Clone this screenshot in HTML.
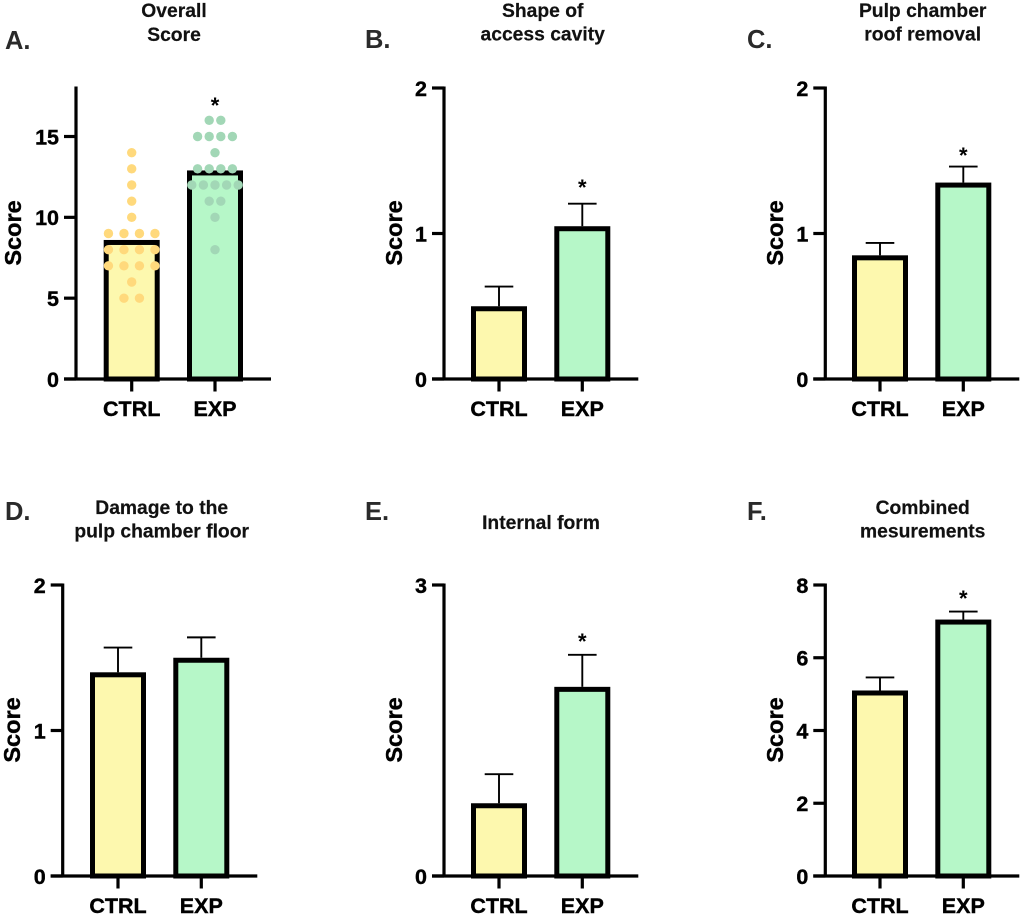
<!DOCTYPE html>
<html lang="en">
<head>
<meta charset="utf-8">
<title>Score panels</title>
<style>
html,body{margin:0;padding:0;background:#fff;width:1022px;height:916px;overflow:hidden}
svg{display:block;font-family:"Liberation Sans",Arial,sans-serif}
.letter{font-size:25.5px;font-weight:700;fill:#2a2a2a}
.title{font-size:19.3px;font-weight:700;fill:#111;text-anchor:middle;stroke:#111;stroke-width:.2px}
.tick{font-size:21.5px;font-weight:700;fill:#000;stroke:#000;stroke-width:.4px}
.ytitle{font-size:23.5px;font-weight:700;fill:#000;text-anchor:middle;stroke:#000;stroke-width:.4px}
.star{font-size:22px;font-weight:700;fill:#000;text-anchor:middle}
</style>
</head>
<body>
<svg id="figure" xmlns="http://www.w3.org/2000/svg" width="1022" height="916" viewBox="0 0 1022 916">
  <g id="panel-a">
    <text class="letter" x="5" y="49">A.</text>
    <text class="title" x="174" y="17">Overall</text>
    <text class="title" x="174" y="41">Score</text>
  </g>
  <g id="panel-b">
    <text class="letter" x="365" y="48">B.</text>
    <text class="title" x="542.7" y="17">Shape of</text>
    <text class="title" x="542.7" y="40.5">access cavity</text>
  </g>
  <g id="panel-c">
    <text class="letter" x="747" y="48">C.</text>
    <text class="title" x="922.7" y="17">Pulp chamber</text>
    <text class="title" x="922.7" y="40.5">roof removal</text>
  </g>
  <g id="panel-d">
    <text class="letter" x="5" y="520">D.</text>
    <text class="title" x="161.7" y="514">Damage to the</text>
    <text class="title" x="161.7" y="537.7">pulp chamber floor</text>
  </g>
  <g id="panel-e">
    <text class="letter" x="365" y="520">E.</text>
    <text class="title" x="541" y="529">Internal form</text>
  </g>
  <g id="panel-f">
    <text class="letter" x="747" y="520">F.</text>
    <text class="title" x="922.7" y="514">Combined</text>
    <text class="title" x="922.7" y="537.7">mesurements</text>
  </g>
</svg>
<script>
// ---- data ----
const categories = ['CTRL', 'EXP'];

const panelATicks = [0, 5, 10, 15];
const panelAMax = 18;
const panelAMeans = [8.6, 12.9];
const panelACtrlScores = [14, 13, 12, 11, 10, 9, 9, 9, 9, 8, 8, 8, 8, 7, 7, 7, 7, 6, 5, 5];
const panelAExpScores = [16, 16, 15, 15, 15, 15, 14, 13, 13, 13, 13, 12, 12, 12, 12, 12, 11, 11, 10, 8];

const panelBTicks = [0, 1, 2];
const panelBMeans = [0.5, 1.05];
const panelBErrors = [0.135, 0.155];

const panelCTicks = [0, 1, 2];
const panelCMeans = [0.85, 1.35];
const panelCErrors = [0.085, 0.11];

const panelDTicks = [0, 1, 2];
const panelDMeans = [1.4, 1.5];
const panelDErrors = [0.17, 0.14];

const panelETicks = [0, 3];
const panelEMeans = [0.75, 1.95];
const panelEErrors = [0.3, 0.33];

const panelFTicks = [0, 2, 4, 6, 8];
const panelFMeans = [5.1, 7.05];
const panelFErrors = [0.36, 0.22];

// ---- helpers ----
const SVG_NS = 'http://www.w3.org/2000/svg';
const YELLOW = '#fdf8ae';
const GREEN = '#b6f7c8';
const BAR_WIDTH = 56;
const BAR_STROKE = 5;

function shape(parent, tag, geometry) {
  const el = document.createElementNS(SVG_NS, tag);
  Object.keys(geometry).forEach(function (key) { el.setAttribute(key, geometry[key]); });
  parent.appendChild(el);
  return el;
}

function linearScale(domainMax, pixelBottom, pixelTop) {
  return function (value) { return pixelBottom - (value / domainMax) * (pixelBottom - pixelTop); };
}

function drawPanel(options) {
  const parent = document.getElementById(options.id);
  const y = linearScale(options.max, options.baseline, options.top);
  const x = function (index) { return options.firstX + index * 83.3; };
  const axisEnd = x(1) + BAR_WIDTH / 2 + 28;

  options.means.forEach(function (mean, i) {
    const cx = x(i);
    if (options.errors) {
      const yErr = y(mean + options.errors[i]);
      const stem = shape(parent, 'line', { x1: cx, x2: cx, y1: y(mean), y2: yErr, stroke: '#000', 'stroke-width': 1.9 });
      
      
      const cap = shape(parent, 'line', { x1: cx - 14.3, x2: cx + 14.3, y1: yErr, y2: yErr, stroke: '#000', 'stroke-width': 1.9 });
      
      
    }
    const bar = shape(parent, 'rect', {
      x: cx - BAR_WIDTH / 2 + BAR_STROKE / 2,
      y: y(mean) + BAR_STROKE / 2,
      width: BAR_WIDTH - BAR_STROKE,
      height: options.baseline - y(mean) - BAR_STROKE / 2,
      fill: i === 0 ? YELLOW : GREEN,
      stroke: '#000',
      'stroke-width': BAR_STROKE
    });
    
    
  });

  const yAxis = shape(parent, 'line', { x1: options.axisX, x2: options.axisX, y1: options.top - 1.5, y2: options.baseline + 1.5, stroke: '#000', 'stroke-width': 3.2 });
  
  
  const xAxis = shape(parent, 'line', { x1: options.axisX - 12, x2: axisEnd, y1: options.baseline, y2: options.baseline, stroke: '#000', 'stroke-width': 3.2 });
  
  

  options.ticks.forEach(function (tick) {
    const mark = shape(parent, 'line', { x1: options.axisX - 12, x2: options.axisX, y1: y(tick), y2: y(tick), stroke: '#000', 'stroke-width': 3.2 });
    
    
    const label = shape(parent, 'text', { class: 'tick', x: options.axisX - 17, y: y(tick) + 7.8, 'text-anchor': 'end' });
    label.textContent = tick;
    
    
  });

  categories.forEach(function (name, i) {
    const mark = shape(parent, 'line', { x1: x(i), x2: x(i), y1: options.baseline, y2: options.baseline + 12.5, stroke: '#000', 'stroke-width': 3.2 });
    
    
    const label = shape(parent, 'text', { class: 'tick', x: x(i), y: options.baseline + 37, 'text-anchor': 'middle' });
    label.textContent = name;
    
    
  });

  const yTitle = shape(parent, 'text', {
    class: 'ytitle', x: 0, y: 0,
    transform: 'translate(' + options.yTitleX + ' ' + (options.baseline - 146) + ') rotate(-90)'
  });
  yTitle.textContent = 'Score';
  
  

  if (options.dots) {
    options.dots.forEach(function (scores, i) {
      const counts = {};
      scores.forEach(function (s) { counts[s] = (counts[s] || 0) + 1; });
      const seen = {};
      scores.forEach(function (s) {
        seen[s] = (seen[s] || 0) + 1;
        const offset = (seen[s] - 1 - (counts[s] - 1) / 2) * (i === 0 ? 15.5 : 11.6);
        const dot = shape(parent, 'circle', { cx: x(i) + offset, cy: y(s), r: 4.7, fill: i === 0 ? '#ffd97c' : '#a2d7b6' });
        
        
      });
    });
  }

  if (options.starY) {
    const star = shape(parent, 'text', { class: 'star', x: x(1), y: options.starY + 10 });
    star.textContent = '*';
    
    
  }
}

// ---- panels ----
drawPanel({ id: 'panel-a', max: panelAMax, ticks: panelATicks, means: panelAMeans, dots: [panelACtrlScores, panelAExpScores],
  axisX: 76, firstX: 131.7, baseline: 379, top: 88, yTitleX: 21, starY: 103 });
drawPanel({ id: 'panel-b', max: 2, ticks: panelBTicks, means: panelBMeans, errors: panelBErrors,
  axisX: 444, firstX: 499, baseline: 379, top: 88, yTitleX: 402, starY: 185 });
drawPanel({ id: 'panel-c', max: 2, ticks: panelCTicks, means: panelCMeans, errors: panelCErrors,
  axisX: 825.3, firstX: 880, baseline: 379, top: 88, yTitleX: 783, starY: 153 });
drawPanel({ id: 'panel-d', max: 2, ticks: panelDTicks, means: panelDMeans, errors: panelDErrors,
  axisX: 62.7, firstX: 118, baseline: 876, top: 585, yTitleX: 20 });
drawPanel({ id: 'panel-e', max: 3, ticks: panelETicks, means: panelEMeans, errors: panelEErrors,
  axisX: 444, firstX: 499, baseline: 876, top: 585, yTitleX: 402, starY: 639 });
drawPanel({ id: 'panel-f', max: 8, ticks: panelFTicks, means: panelFMeans, errors: panelFErrors,
  axisX: 825.3, firstX: 880, baseline: 876, top: 585, yTitleX: 783, starY: 596 });
</script>
</body>
</html>
